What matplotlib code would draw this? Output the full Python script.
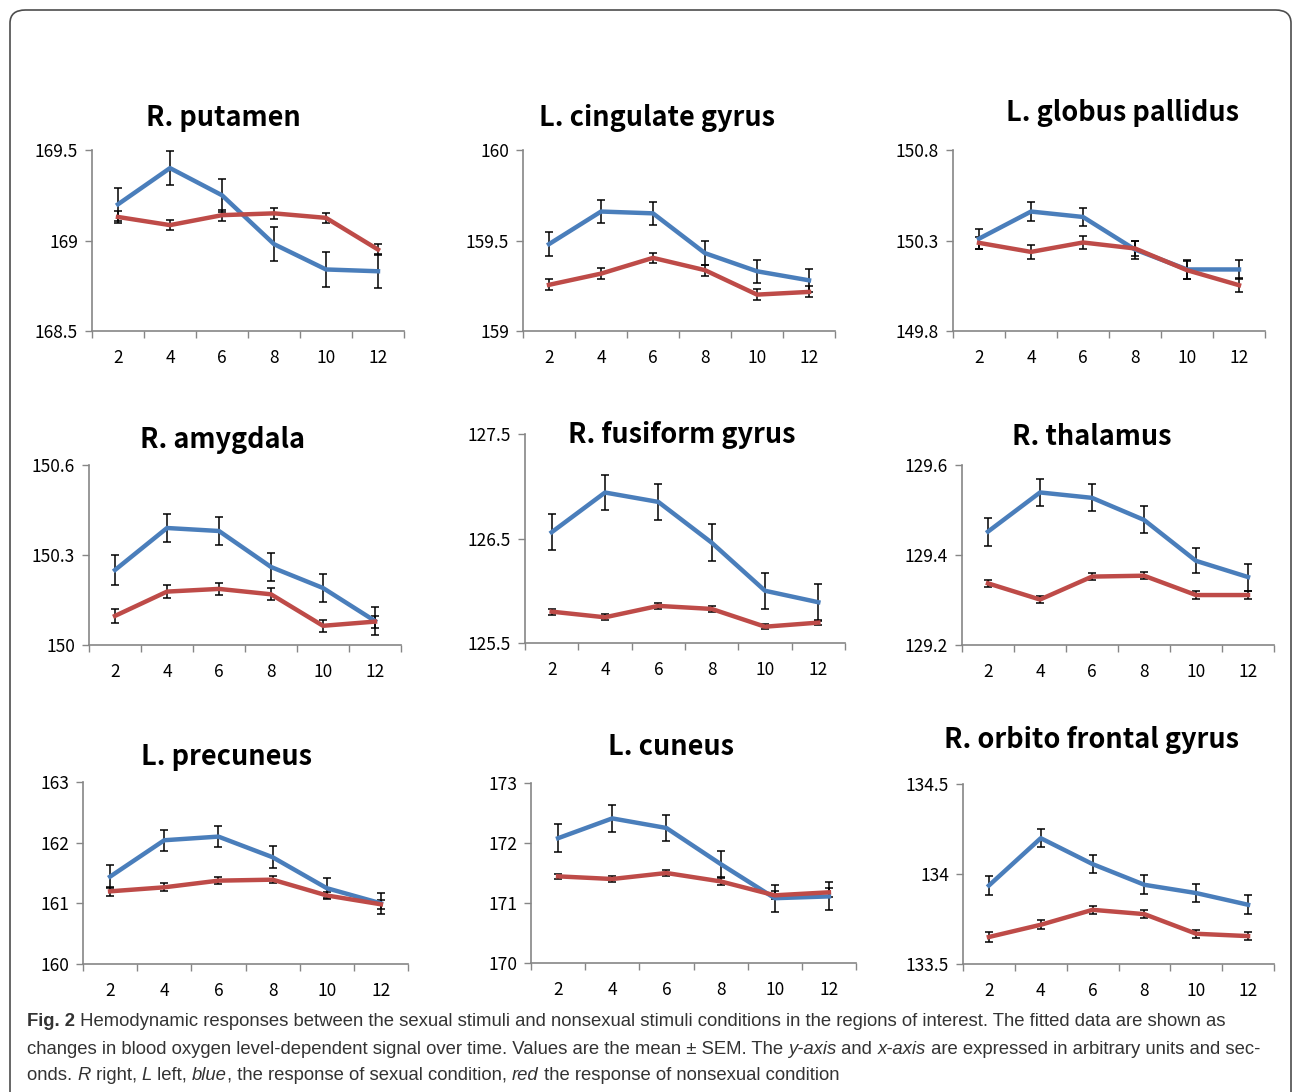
import numpy as np
import matplotlib
matplotlib.use('Agg')
import matplotlib.pyplot as plt
from matplotlib.patches import FancyBboxPatch

# dados
time = [2, 4, 6, 8, 10, 12]

regions = ['R. putamen', 'L. cingulate gyrus', 'L. globus pallidus',
           'R. amygdala', 'R. fusiform gyrus', 'R. thalamus',
           'L. precuneus', 'L. cuneus', 'R. orbito frontal gyrus']

y_ticks = [[168.5, 169, 169.5], [159, 159.5, 160], [149.8, 150.3, 150.8],
           [150, 150.3, 150.6], [125.5, 126.5, 127.5], [129.2, 129.4, 129.6],
           [160, 161, 162, 163], [170, 171, 172, 173], [133.5, 134, 134.5]]
y_labels = [['168.5', '169', '169.5'], ['159', '159.5', '160'], ['149.8', '150.3', '150.8'],
            ['150', '150.3', '150.6'], ['125.5', '126.5', '127.5'], ['129.2', '129.4', '129.6'],
            ['160', '161', '162', '163'], ['170', '171', '172', '173'], ['133.5', '134', '134.5']]

sexual = [
    [169.20, 169.40, 169.25, 168.98, 168.84, 168.83],
    [159.48, 159.66, 159.65, 159.43, 159.33, 159.28],
    [150.31, 150.46, 150.43, 150.25, 150.14, 150.14],
    [150.25, 150.39, 150.38, 150.26, 150.19, 150.08],
    [126.56, 126.94, 126.85, 126.46, 126.00, 125.89],
    [129.452, 129.539, 129.527, 129.478, 129.387, 129.351],
    [161.44, 162.04, 162.10, 161.76, 161.25, 161.00],
    [172.08, 172.41, 172.25, 171.65, 171.08, 171.11],
    [133.936, 134.199, 134.055, 133.94, 133.894, 133.829],
]
sexual_sem = [
    [0.09, 0.095, 0.09, 0.095, 0.095, 0.095],
    [0.068, 0.065, 0.065, 0.065, 0.065, 0.065],
    [0.055, 0.055, 0.052, 0.05, 0.052, 0.055],
    [0.05, 0.047, 0.047, 0.047, 0.046, 0.047],
    [0.17, 0.166, 0.17, 0.175, 0.17, 0.175],
    [0.031, 0.03, 0.03, 0.03, 0.028, 0.03],
    [0.19, 0.175, 0.175, 0.18, 0.165, 0.17],
    [0.233, 0.222, 0.222, 0.222, 0.222, 0.233],
    [0.054, 0.05, 0.052, 0.052, 0.05, 0.052],
]
nonsexual = [
    [169.13, 169.085, 169.14, 169.15, 169.125, 168.95],
    [159.255, 159.317, 159.404, 159.336, 159.201, 159.216],
    [150.287, 150.237, 150.289, 150.256, 150.136, 150.053],
    [150.097, 150.178, 150.187, 150.169, 150.064, 150.078],
    [125.80, 125.746, 125.855, 125.826, 125.656, 125.695],
    [129.337, 129.301, 129.352, 129.354, 129.311, 129.311],
    [161.198, 161.264, 161.374, 161.39, 161.13, 160.984],
    [171.444, 171.40, 171.50, 171.36, 171.128, 171.178],
    [133.65, 133.718, 133.801, 133.777, 133.668, 133.655],
]
nonsexual_sem = [
    [0.033, 0.028, 0.03, 0.03, 0.028, 0.031],
    [0.03, 0.03, 0.028, 0.03, 0.03, 0.03],
    [0.033, 0.04, 0.037, 0.04, 0.05, 0.038],
    [0.022, 0.022, 0.021, 0.02, 0.021, 0.02],
    [0.03, 0.03, 0.03, 0.025, 0.025, 0.025],
    [0.008, 0.008, 0.008, 0.008, 0.008, 0.009],
    [0.07, 0.065, 0.06, 0.055, 0.065, 0.075],
    [0.045, 0.055, 0.055, 0.055, 0.067, 0.08],
    [0.026, 0.024, 0.024, 0.022, 0.022, 0.024],
]

W, H = 1293, 1092
fig = plt.figure(figsize=(W / 100, H / 100), dpi=100)
plt.rcParams['font.family'] = ['Noto Sans CJK KR', 'DejaVu Sans']

# caixa arredondada em volta da figura
box = FancyBboxPatch((10 / W, -0.05), (1281 / W), 1 - 10 / H + 0.05,
                     boxstyle='round,pad=0,rounding_size=0.012',
                     transform=fig.transFigure, fill=False,
                     edgecolor='#4d4d4d', linewidth=1.2)
fig.patches.append(box)

# posicao de cada painel em pixels: esquerda, direita, topo, base
boxes = [(92, 404, 150, 331), (523, 835, 150, 331), (953, 1265, 150, 331),
         (89, 401, 465, 645), (525, 845, 434, 643), (962, 1274, 465, 645),
         (83, 408, 782, 964), (531, 856, 783, 963), (963, 1274, 784, 964)]
titles_pos = [(223, 118), (657, 118), (1122, 113),
              (223, 440), (682, 435), (1092, 437),
              (226, 757), (671, 747), (1092, 740)]

blue = '#4a7ebb'
red = '#be4b48'
grey = '#868686'

for i in range(9):
    l, r, t, b = boxes[i]
    ax = fig.add_axes([l / W, 1 - b / H, (r - l) / W, (b - t) / H])
    ax.errorbar(time, sexual[i], yerr=sexual_sem[i], color=blue, lw=3.2,
                ecolor='black', elinewidth=1.1, capsize=3, capthick=1.1)
    ax.errorbar(time, nonsexual[i], yerr=nonsexual_sem[i], color=red, lw=3.2,
                ecolor='black', elinewidth=1.1, capsize=3, capthick=1.1)
    ax.set_xlim(1, 13)
    ax.set_ylim(y_ticks[i][0], y_ticks[i][-1])
    ax.set_xticks(np.arange(1, 14, 2))
    ax.set_xticklabels([])
    ax.set_xticks(time, minor=True)
    ax.set_xticklabels([str(v) for v in time], minor=True)
    ax.set_yticks(y_ticks[i])
    ax.set_yticklabels(y_labels[i])
    ax.tick_params(axis='x', which='major', length=5, width=1, color=grey)
    ax.tick_params(axis='x', which='minor', length=0, pad=13, labelsize=12.5)
    ax.tick_params(axis='y', length=5, width=1, color=grey, pad=5, labelsize=12.5)
    for s in ['top', 'right']:
        ax.spines[s].set_visible(False)
    for s in ['left', 'bottom']:
        ax.spines[s].set_color(grey)
        ax.spines[s].set_linewidth(1.2)
    ax.patch.set_alpha(0)
    tx, ty = titles_pos[i]
    fig.text(tx / W, 1 - ty / H, regions[i], ha='center', va='center',
             fontsize=19.5, fontweight='bold', color='black')

# legenda da figura, com trechos em negrito e italico
renderer = fig.canvas.get_renderer()
cap_font = ['Liberation Sans Narrow', 'Liberation Sans', 'DejaVu Sans']
cap_lines = [
    [('Fig. 2', 'bold', 'normal'),
     (' Hemodynamic responses between the sexual stimuli and nonsexual stimuli conditions in the regions of interest. The fitted data are shown as', 'normal', 'normal')],
    [('changes in blood oxygen level-dependent signal over time. Values are the mean \u00b1 SEM. The ', 'normal', 'normal'),
     ('y-axis', 'normal', 'italic'), (' and ', 'normal', 'normal'),
     ('x-axis', 'normal', 'italic'),
     (' are expressed in arbitrary units and sec-', 'normal', 'normal')],
    [('onds. ', 'normal', 'normal'), ('R', 'normal', 'italic'),
     (' right, ', 'normal', 'normal'), ('L', 'normal', 'italic'),
     (' left, ', 'normal', 'normal'), ('blue', 'normal', 'italic'),
     (', the response of sexual condition, ', 'normal', 'normal'),
     ('red', 'normal', 'italic'),
     (' the response of nonsexual condition', 'normal', 'normal')],
]


def line_width(line, size):
    total = 0
    for txt, wt, st in line:
        t = fig.text(0, 0, txt, family=cap_font, fontweight=wt,
                     fontstyle=st, fontsize=size)
        total += t.get_window_extent(renderer).width
        t.remove()
    return total


# ajusta o tamanho para as duas primeiras linhas caberem na caixa
base = 13.5
cap_size = min(base * 1231 / line_width(cap_lines[0], base),
               base * 1234 / line_width(cap_lines[1], base))

cap_y = [1022, 1049, 1075]
for line, y in zip(cap_lines, cap_y):
    x = 27
    for txt, wt, st in line:
        t = fig.text(x / W, 1 - y / H, txt, family=cap_font, fontweight=wt,
                     fontstyle=st, fontsize=cap_size, color='#333333',
                     va='center', ha='left')
        x += t.get_window_extent(renderer).width

fig.savefig('out.png', dpi=100)
